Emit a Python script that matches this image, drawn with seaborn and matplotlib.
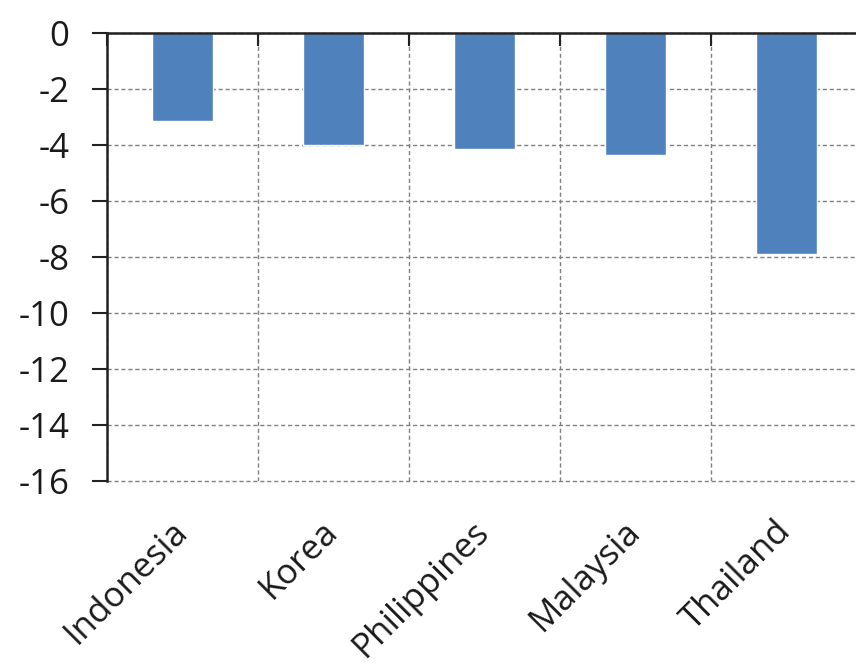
import matplotlib
matplotlib.use("Agg")
import matplotlib.pyplot as plt
import matplotlib.transforms as mtransforms
import seaborn as sns
import pandas as pd
import numpy as np

countries = ["Indonesia", "Korea", "Philippines", "Malaysia", "Thailand"]
values = [-3.15, -4.0, -4.15, -4.35, -7.9]
y_ticks = [0, -2, -4, -6, -8, -10, -12, -14, -16]

sns.set_theme(style="white")
plt.rcParams["font.family"] = ["Open Sans", "DejaVu Sans"]

df = pd.DataFrame({"country": countries, "value": values})

fig = plt.figure(figsize=(8.56, 6.66), dpi=100)
ax = fig.add_axes([107 / 856, 1 - 481 / 666, 755 / 856, 448 / 666])

sns.barplot(data=df, x="country", y="value", color="#4F81BD", width=0.4,
            saturation=1, ax=ax, zorder=3)

ax.set_ylim(-16, 0)
ax.set_xlim(-0.5, len(countries) - 0.5)
ax.set_yticks(y_ticks)
ax.set_yticklabels([str(v) for v in y_ticks], fontsize=25, color="#1a1a1a")
ax.set_xlabel("")
ax.set_ylabel("")

# category boundaries: dashed vertical grid + short ticks hanging from the zero line
bounds = np.arange(len(countries) + 1) - 0.5
ax.set_xticks(bounds, minor=True)
ax.set_xticklabels(countries, fontsize=25, rotation=45, ha="right",
                   rotation_mode="anchor", color="#1a1a1a")
ax.tick_params(axis="x", which="major", length=0, pad=24)
ax.tick_params(axis="x", which="minor", bottom=False, top=True, direction="in",
               length=9, width=1.5, color="#222222")
ax.tick_params(axis="y", which="major", left=True, direction="out",
               length=11, width=1.5, color="#222222", pad=16)

# nudge the slanted category labels slightly left of the bar centres
shift = mtransforms.ScaledTranslation(-9 / 72, 0, fig.dpi_scale_trans)
for lbl in ax.get_xticklabels():
    lbl.set_transform(lbl.get_transform() + shift)

ax.grid(False)
ax.yaxis.grid(True, linestyle=(0, (3, 2)), color="#808080", linewidth=1)
ax.xaxis.grid(True, which="minor", linestyle=(0, (3, 2)), color="#808080", linewidth=1)
ax.set_axisbelow(True)
for gl in ax.get_ygridlines():
    gl.set_clip_on(False)

for s in ["right", "bottom"]:
    ax.spines[s].set_visible(False)
ax.spines["top"].set_color("#222222")
ax.spines["top"].set_linewidth(1.8)
ax.spines["top"].set_zorder(5)
ax.spines["left"].set_color("#222222")
ax.spines["left"].set_linewidth(1.8)

fig.savefig("out.png", dpi=100)
